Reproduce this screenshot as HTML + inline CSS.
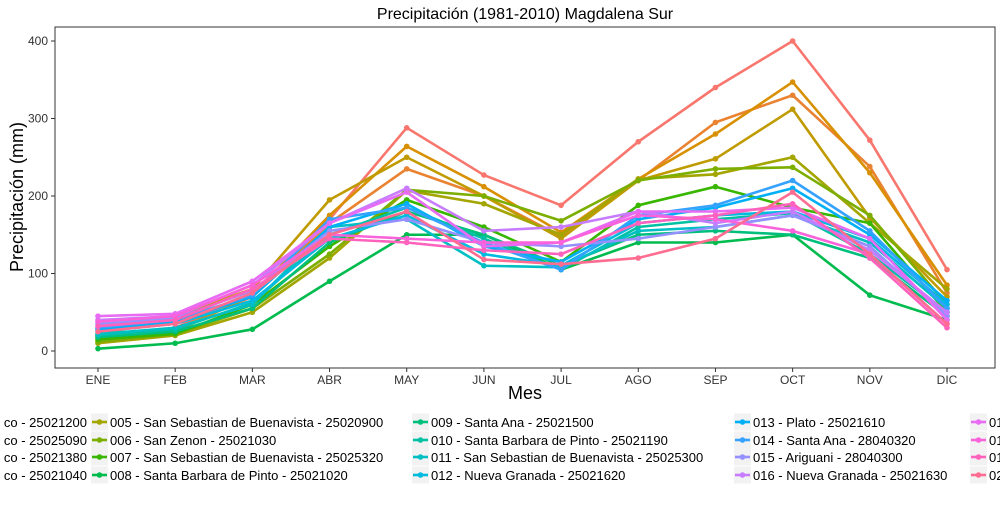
<!DOCTYPE html>
<html><head><meta charset="utf-8"><style>
body{margin:0;background:#fff;font-family:"Liberation Sans",Arial,sans-serif}
svg text{font-family:"Liberation Sans",Arial,sans-serif}
</style></head><body>
<svg id="c" width="1000" height="500" xmlns="http://www.w3.org/2000/svg"></svg>
<script>
const months=["ENE","FEB","MAR","ABR","MAY","JUN","JUL","AGO","SEP","OCT","NOV","DIC"];
const yTicks=[0,100,200,300,400];
const seriesNames=[
"001 - El Banco - 25021200","002 - El Banco - 25025090","003 - El Banco - 25021380","004 - El Banco - 25021040",
"005 - San Sebastian de Buenavista - 25020900","006 - San Zenon - 25021030","007 - San Sebastian de Buenavista - 25025320","008 - Santa Barbara de Pinto - 25021020",
"009 - Santa Ana - 25021500","010 - Santa Barbara de Pinto - 25021190","011 - San Sebastian de Buenavista - 25025300","012 - Nueva Granada - 25021620",
"013 - Plato - 25021610","014 - Santa Ana - 28040320","015 - Ariguani - 28040300","016 - Nueva Granada - 25021630",
"017 - Plato - 25021600","018 - Ariguani - 28040310","019 - Nueva Granada - 25021640","020 - Plato - 25021650"];
const colors=["#F8766D","#EA8331","#D89000","#C09B00","#A3A500","#7CAE00","#39B600","#00BB4E","#00BF7D","#00C1A3","#00BFC4","#00BAE0","#00B0F6","#35A2FF","#9590FF","#C77CFF","#E76BF3","#FA62DB","#FF62BC","#FF6C91"];
const s01=[20,30,75,170,288,227,188,270,340,400,272,105];
const s02=[18,28,70,165,235,200,148,220,295,330,238,75];
const s03=[15,25,72,175,264,212,153,222,280,347,230,85];
const s04=[20,45,80,195,250,200,145,220,248,312,172,70];
const s05=[10,20,50,120,207,190,150,222,228,250,165,80];
const s06=[12,22,55,125,208,200,168,220,235,237,175,60];
const s07=[15,22,60,135,195,160,115,188,212,185,165,50];
const s08=[3,10,28,90,150,150,105,140,140,150,72,40];
const s09=[18,25,55,140,180,150,110,150,155,150,120,45];
const s10=[20,28,62,150,185,145,105,160,170,178,125,50];
const s11=[22,30,60,160,170,110,108,155,160,175,140,55];
const s12=[25,35,65,145,175,125,110,165,175,180,145,60];
const s13=[28,38,70,160,190,135,115,170,185,210,150,65];
const s14=[30,40,72,170,185,140,105,175,188,220,155,55];
const s15=[35,42,78,155,170,140,135,145,160,175,135,45];
const s16=[40,45,85,165,210,155,160,180,165,180,130,50];
const s17=[45,48,90,165,205,135,140,180,180,185,145,40];
const s18=[38,45,85,150,145,140,140,175,170,155,125,35];
const s19=[32,40,80,145,140,130,125,165,175,190,120,30];
const s20=[25,35,75,150,180,118,112,120,145,205,125,35];
const values=[s01,s02,s03,s04,s05,s06,s07,s08,s09,s10,s11,s12,s13,s14,s15,s16,s17,s18,s19,s20];

const svg=document.getElementById('c');
const NS="http://www.w3.org/2000/svg";
function mk(t,a,p){const e=document.createElementNS(NS,t);for(const k in a)e.setAttribute(k,a[k]);(p||svg).appendChild(e);return e;}
const L=55,R=995,T=27,B=368;
const xs=i=>98+i*(947-98)/(months.length-1);
const ys=v=>351-v*(351-41)/400;
const frame=mk('rect',{x:L,y:T,width:R-L,height:B-T,fill:'#fff',stroke:'#333','stroke-width':1});


const title=mk('text',{x:525,y:19,'text-anchor':'middle','font-size':16,fill:'#000'});
title.textContent="Precipitación (1981-2010)  Magdalena Sur";


yTicks.forEach(v=>{
  mk('line',{x1:L-4,x2:L,y1:ys(v),y2:ys(v),stroke:'#333'});
  const t=mk('text',{x:L-7,y:ys(v)+4,'text-anchor':'end','font-size':12,fill:'#333'});
  t.textContent=v;
  
  
});
months.forEach((m,i)=>{
  mk('line',{x1:xs(i),x2:xs(i),y1:B,y2:B+4,stroke:'#333'});
  const t=mk('text',{x:xs(i),y:B+16,'text-anchor':'middle','font-size':12,fill:'#333'});
  t.textContent=m;
  
  
});
const xt=mk('text',{x:525,y:399,'text-anchor':'middle','font-size':18,fill:'#000'});
xt.textContent="Mes";


const yt=mk('text',{x:0,y:0,'text-anchor':'middle','font-size':18,fill:'#000',transform:'translate(23,197) rotate(-90)'});
yt.textContent="Precipitación (mm)";


values.forEach((arr,si)=>{
  const g=mk('g',{});
  
  
  mk('polyline',{points:arr.map((v,i)=>xs(i)+','+ys(v)).join(' '),fill:'none',stroke:colors[si],'stroke-width':2.6,'stroke-linejoin':'round'},g);
  arr.forEach((v,i)=>{
    const c=mk('circle',{cx:xs(i),cy:ys(v),r:2.8,fill:colors[si]},g);
    
    
  });
});
const colKeyX=[-230,91,412,734,970];
const rowY=[422,440,457,475];
seriesNames.forEach((n,si)=>{
  const col=Math.floor(si/4),row=si%4;
  const kx=colKeyX[col],cy=rowY[row];
  const g=mk('g',{});
  
  
  mk('rect',{x:kx,y:cy-8.5,width:17,height:17,fill:'#F2F2F2'},g);
  mk('line',{x1:kx+1,x2:kx+16,y1:cy,y2:cy,stroke:colors[si],'stroke-width':2.6},g);
  mk('circle',{cx:kx+8.5,cy:cy,r:2.8,fill:colors[si]},g);
  const t=mk('text',{'font-size':13,fill:'#000',y:cy+5},g);
  if(col===0){t.setAttribute('x',87);t.setAttribute('text-anchor','end');t.textContent=n.replace(/^.*?(co - \d+)$/,'$1');}
  else {t.setAttribute('x',kx+19);t.textContent=n;}
});
</script>
</body></html>
